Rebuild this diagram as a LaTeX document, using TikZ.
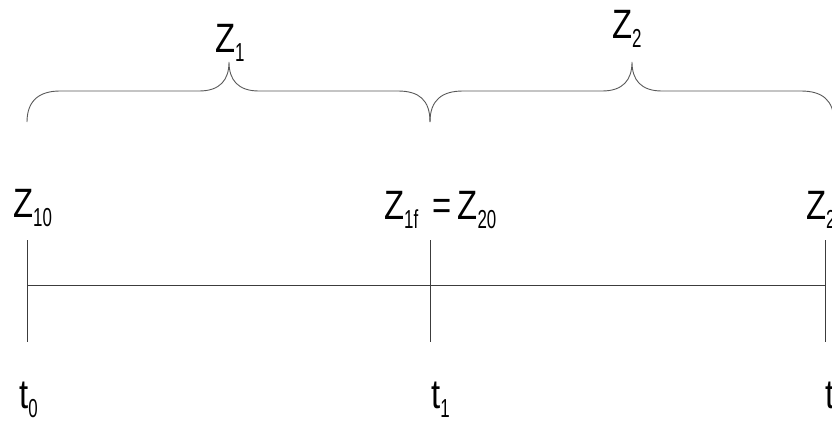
\documentclass[tikz,border=0pt]{standalone}
\usepackage{fontspec}
\setmainfont{Liberation Sans}[FakeStretch=0.8]
\newfontfamily\subfont{Liberation Sans}[FakeStretch=0.65]
\usetikzlibrary{positioning}
\definecolor{LineGray}{HTML}{3C3C3C}
\newcommand{\sub}[1]{\raisebox{-9pt}{\fontsize{26pt}{26pt}\subfont #1}}
\tikzset{lbl/.style={inner sep=0pt,anchor=base west,font=\fontsize{41pt}{41pt}\selectfont},
  brace/.style={draw=LineGray!85,line width=0.9pt},
  axis/.style={draw=LineGray,line width=1pt}}

\begin{document}
\begin{tikzpicture}[x=1pt,y=-1pt]
\useasboundingbox (0,0) rectangle (832,421);
\clip (0,0) rectangle (832,421);
% braces over the two intervals
\draw[brace] (27,122) .. controls (27,100) and (40,91) .. (60,91) -- (199,91) .. controls (220,91) and (229,80) .. (229,62) .. controls (229,80) and (238,91) .. (259,91) -- (398,91) .. controls (419,91) and (430,100) .. (430,122);
\draw[brace] (430,122) .. controls (430,100) and (442,91) .. (463,91) -- (602,91) .. controls (623,91) and (632,80) .. (632,62) .. controls (632,80) and (641,91) .. (662,91) -- (801,91) .. controls (822,91) and (834,100) .. (834,122);
\node[lbl] (zone) at (215,52) {Z\sub{1}};
\node[lbl] (ztwo) at (612,38) {Z\sub{2}};
% time axis with ticks
\coordinate (top0) at (27,240); \coordinate (bot0) at (27,342);
\coordinate (top1) at (430,240); \coordinate (bot1) at (430,342);
\coordinate (top2) at (825,240); \coordinate (bot2) at (825,342);
\coordinate (left) at (27,285); \coordinate (right) at (825,285);
\draw[axis] (left) -- (right);
\draw[axis] (top0) -- (bot0); \draw[axis] (top1) -- (bot1); \draw[axis] (top2) -- (bot2);
\node[lbl] (zinit) at (13,217) {Z\sub{10}};
\node[lbl] (zmid) at (384,219) {Z\sub{1f}\hspace{14pt}=\hspace{6pt}Z\sub{20}};
\node[lbl] (zend) at (806,219) {Z\sub{2}};
\node[lbl] (tzero) at (19,408) {t\sub{0}};
\node[lbl] (tone) at (431,408) {t\sub{1}};
\node[lbl] (ttwo) at (825,408) {t};
\end{tikzpicture}
\end{document}
